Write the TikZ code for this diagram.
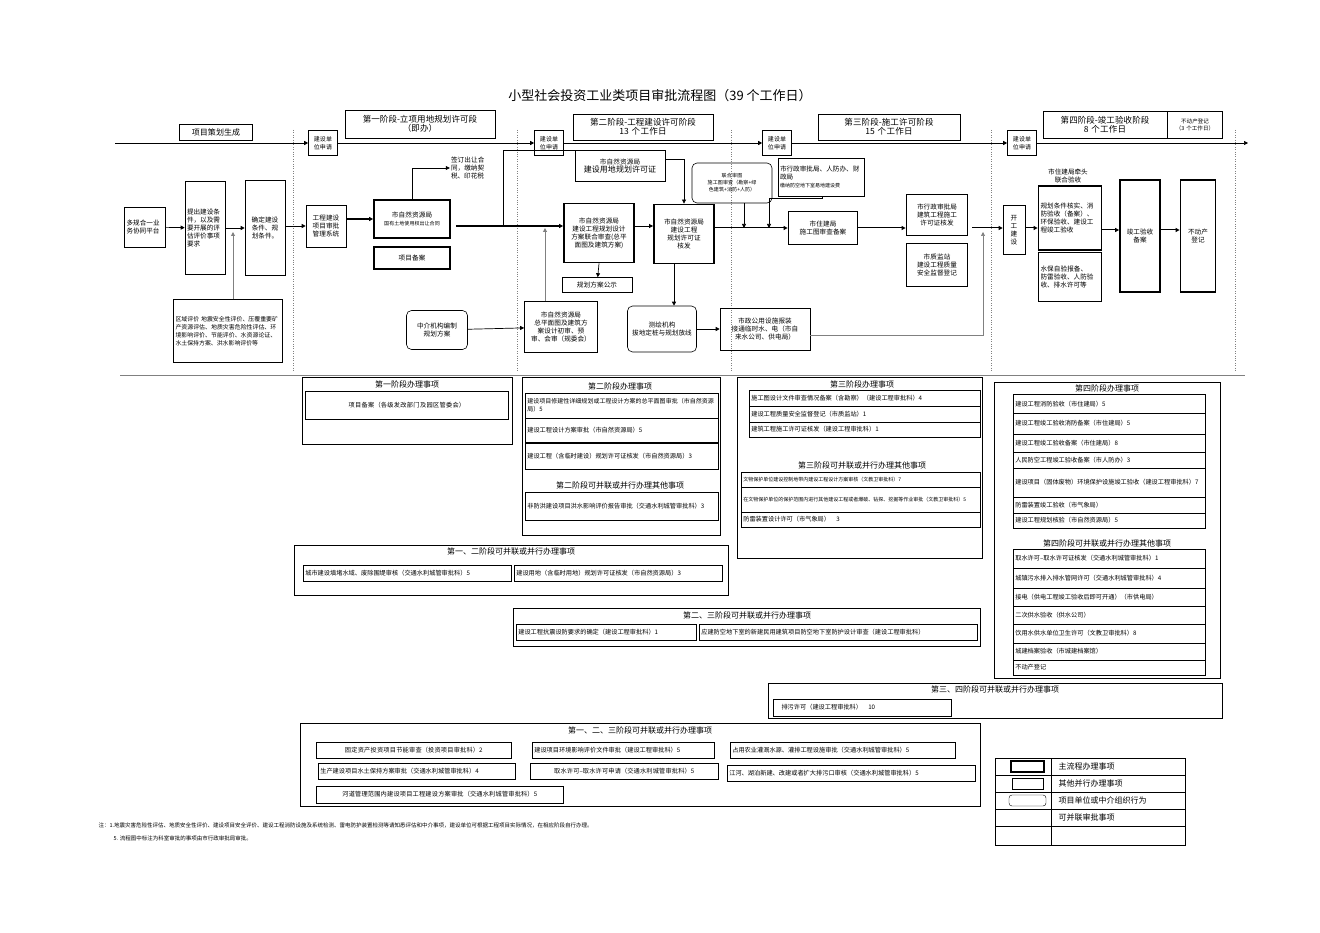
\documentclass[tikz,border=0pt]{standalone}
\usepackage{fontspec}
\setmainfont{Noto Sans CJK SC}
\XeTeXlinebreaklocale "zh"
\XeTeXlinebreakskip = 0pt plus 0.1pt
\usetikzlibrary{arrows.meta}
\usepackage{xcolor}

\tikzset{
	base/.style={draw, inner sep=1pt, align=center, font=\fontsize{6.6}{8}\selectfont},
	mainbox/.style={base, line width=1.8pt},
	subbox/.style={base, line width=0.6pt},
	actbox/.style={base, line width=0.6pt, rounded corners=5pt},
	sz/.style 2 args={minimum width=#1, minimum height=#2, text width=#1-4},
	row/.style={draw, line width=0.6pt, inner sep=2pt, align=left, anchor=west, minimum width=#1, text width=#1-4, font=\fontsize{6.2}{9}\selectfont},
	head/.style={font=\fontsize{8}{9}\selectfont},
	flow/.style={-{Triangle[length=4pt,width=4pt]}, line width=0.7pt},
	stage/.style={dotted, gray},
}

\begin{document}
\begin{tikzpicture}[x=1pt, y=-1pt]
	\useasboundingbox (0,0) rectangle (1320,933);
	
	\node[font=\fontsize{13}{15}\selectfont] (title) at (660,96) {小型社会投资工业类项目审批流程图（39 个工作日）};
	
	% stage headers
	\node[subbox, head, sz={73}{16}] (s0) at (216,132) {项目策划生成};
	\node[subbox, sz={150}{28}, font=\fontsize{8.5}{9}\selectfont] (s1) at (420,124) {第一阶段-立项用地规划许可段\\（即办）};
	\node[subbox, sz={140}{26}, font=\fontsize{8.5}{9}\selectfont] (s2) at (643,127) {第二阶段-工程建设许可阶段\\13 个工作日};
	\node[subbox, sz={142}{26}, font=\fontsize{8.5}{9}\selectfont] (s3) at (889,127) {第三阶段-施工许可阶段\\15 个工作日};
	\node[subbox, sz={124}{27}, font=\fontsize{8.5}{9}\selectfont] (s4) at (1105,125) {第四阶段-竣工验收阶段\\8 个工作日};
	\node[subbox, sz={55}{27}, font=\fontsize{5.5}{7}\selectfont] (s5) at (1195,125) {不动产登记\\（3 个工作日）};
	
	% applicant boxes on the time line
	\node[subbox, sz={29}{25}, font=\fontsize{6}{7.5}\selectfont] (a1) at (323,143) {建设单\\位申请};
	\node[subbox, sz={29}{25}, font=\fontsize{6}{7.5}\selectfont] (a2) at (549,143) {建设单\\位申请};
	\node[subbox, sz={29}{25}, font=\fontsize{6}{7.5}\selectfont] (a3) at (777,143) {建设单\\位申请};
	\node[subbox, sz={29}{25}, font=\fontsize{6}{7.5}\selectfont] (a4) at (1022,143) {建设单\\位申请};
	\coordinate (t0) at (115,143);
	\coordinate (t5) at (1248,143);
	\draw[flow] (t0) -- (a1);
	\draw[flow] (a1) -- (a2);
	\draw[flow] (a2) -- (a3);
	\draw[flow] (a3) -- (a4);
	\draw[flow] (a4) -- (t5);
	
	\foreach \x in {293,517,731,991,1235}
		\draw[stage] (\x,130) -- (\x,372);
	\draw[gray, line width=0.8pt] (120,375) -- (1245,375);
	
	% main flow
	\node[subbox, sz={41}{40}, align=left] (p1) at (145,227) {多规合一业务协同平台};
	\node[subbox, sz={40}{93}, align=left] (p2) at (205,228) {提出建设条件，以及需要开展的评估评价事项要求};
	\node[subbox, sz={40}{95}] (p3) at (265,228) {确定建设条件、规划条件。};
	\node[subbox, sz={109}{63}, align=left, font=\fontsize{5.9}{8}\selectfont] (p4) at (228,331) {区域评价 地震安全性评价、压覆重要矿产资源评估、地质灾害危险性评估、环境影响评价、节能评价、水资源论证、水土保持方案、洪水影响评价等};
	\node[subbox, sz={40}{42}] (p5) at (326,226) {工程建设项目审批管理系统};
	\node[mainbox, sz={76}{38}] (p6) at (412,219) {市自然资源局\\{\fontsize{5}{6}\selectfont 国有土地使用权出让合同}};
	\node[mainbox, sz={76}{22}] (p7) at (412,258) {项目备案};
	\node[base, draw=none, text width=46, align=left] (p8) at (474,168) {签订出让合同，缴纳契税、印花税};
	\node[actbox, sz={61}{39}] (p9) at (437,330) {中介机构编制\\规划方案};
	
	\node[subbox, sz={90}{31}] (q1) at (620,166) {市自然资源局\\{\fontsize{8}{9}\selectfont 建设用地规划许可证}};
	\node[mainbox, sz={70}{59}] (q2) at (599,233) {市自然资源局\\建设工程规划设计方案联合审查(总平面图及建筑方案)};
	\node[subbox, sz={70}{15}] (q3) at (597,285) {规划方案公示};
	\node[subbox, sz={73}{51}] (q4) at (561,327) {市自然资源局\\总平面图及建筑方案设计初审、预审、会审（规委会）};
	\node[mainbox, sz={60}{59}] (q5) at (684,234) {市自然资源局\\建设工程\\规划许可证\\核发};
	\node[actbox, sz={69}{46}] (q6) at (662,329) {测绘机构\\拔地定桩与规划放线};
	\node[subbox, sz={90}{42}] (q7) at (765,329) {市政公用设施报装\\接通临时水、电（市自来水公司、供电局）};
	
	\node[actbox, sz={80}{40}, font=\fontsize{5}{7}\selectfont] (r1) at (732,183) {联合审图\\施工图审查（勘察+绿色建筑+消防+人防）};
	\node[subbox, sz={86}{38}, align=left] (r2) at (821,177) {市行政审批局、人防办、财政局\\{\fontsize{5}{6}\selectfont 缴纳防空地下室易地建设费}};
	\node[mainbox, sz={69}{33}] (r3) at (823,228) {市住建局\\施工图审查备案};
	\node[mainbox, sz={61}{41}] (r4) at (937,215) {市行政审批局\\建筑工程施工许可证核发};
	\node[mainbox, sz={61}{43}] (r5) at (937,265) {市质监站\\建设工程质量安全监督登记};
	
	\node[subbox, sz={22}{49}] (u1) at (1014,230) {开\\工\\建\\设};
	\node[base, draw=none] (u0) at (1068,176) {市住建局牵头\\联合验收};
	\node[mainbox, sz={63}{64}, align=left] (u2) at (1070,218) {规划条件核实、消防验收（备案）、环保验收、建设工程竣工验收};
	\node[mainbox, sz={63}{49}, align=left] (u3) at (1070,277) {水保自验报备、防雷验收、人防验收、排水许可等};
	\node[mainbox, sz={40}{112}] (u4) at (1140,236) {竣工验收\\备案};
	\node[mainbox, sz={35}{112}] (u5) at (1198,236) {不动产\\登记};
	
	% connectors
	\draw[flow] (p1) -- (p2);
	\draw[flow] (p2.east |- 0,228) -- (p3.west |- 0,228);
	\draw[flow, gray, line width=1pt] (p4.north -| 233,0) -- (233,232);
	\draw[flow] (p3.east |- 0,226) -- (p5.west |- 0,226);
	\draw[flow, line width=1.6pt] (p5.east |- 0,219) -- (p6);
	\draw[flow] (p6.north) |- (p8.west);
	\draw[line width=1.6pt, -{Triangle[length=4pt,width=4pt]}] (p6.east |- 0,226) ++(5,0) -- (q2.west |- 0,226);
	\draw[line width=0.8pt] (503,226) |- (q1.west |- 0,150);
	\draw[flow] (q1.east |- 0,159) -| (q5.north);
	\draw[flow] (p9) -- (q4);
	\draw[flow, gray, line width=1pt] (q4.north -| 545,0) -- (545,228);
	\draw[flow] (q2.east |- 0,226) -- (q5.west |- 0,226);
	\draw[flow] (q2.south) -- (q3);
	\draw[flow] (q5.south -| 674,0) -- (q6.north -| 674,0);
	\draw[flow] (q6) -- (q7);
	\draw[flow, line width=1pt] (q5.east |- 0,228) -- (r3.west |- 0,228);
	\draw[flow] (r1.south -| 744,0) -- (744,228);
	\draw[flow] (r2.south -| 822,0) -- (822,198) -| (769,228);
	\draw[flow, line width=1pt] (r3.east |- 0,228) -- (r4.west |- 0,228);
	\draw[flow, line width=1pt] (r4.east |- 0,228) ++(4,0) -- (u1.west |- 0,228);
	\draw[flow, gray] (q7.east |- 0,335) -| (983,232);
	\draw[flow, line width=1pt] (u1.east |- 0,228) -- (u2.west |- 0,228);
	\draw[flow, line width=1pt] (u2.east |- 0,230) -- (u4.west |- 0,230);
	\draw[flow, line width=1pt] (u4.east |- 0,230) -- (u5.west |- 0,230);
	
	% stage 1 items
	\draw[line width=0.8pt] (302,377) rectangle (512,444);
	\node[head] (h1) at (407,384) {第一阶段办理事项};
	\node[row=203, minimum height=28, align=center] (i11) at (305,405) {项目备案（各级发改部门及园区管委会）};
	
	% stage 2 items
	\draw[line width=0.8pt] (522,377) rectangle (720,535);
	\node[head] (h2) at (620,386) {第二阶段办理事项};
	\node[row=193, minimum height=25, font=\fontsize{6}{8}\selectfont] (i21) at (525,405.5) {建设项目修建性详细规划或工程设计方案的总平面图审批（市自然资源局）5};
	\node[row=193, minimum height=24] (i22) at (525,430) {建设工程设计方案审批（市自然资源局）5\\[5pt]};
	\node[row=193, minimum height=26] (i23) at (525,456) {建设工程（含临时建设）规划许可证核发（市自然资源局）3};
	\node[head] (h2b) at (620,485) {第二阶段可并联或并行办理其他事项};
	\node[row=193, minimum height=28, font=\fontsize{6.2}{11}\selectfont] (i24) at (525,506) {非防洪建设项目洪水影响评价报告审批（交通水利城管审批科）3};
	
	% stage 3 items
	\draw[line width=0.8pt] (737,377) rectangle (982,558);
	\node[head] (h3) at (862,384) {第三阶段办理事项};
	\node[row=231, minimum height=16] (i31) at (749,398) {施工图设计文件审查情况备案（含勘察）（建设工程审批科）4};
	\node[row=231, minimum height=16] (i32) at (749,414) {建设工程质量安全监督登记（市质监站）1};
	\node[row=231, minimum height=15] (i33) at (749,429.5) {建筑工程施工许可证核发（建设工程审批科）1};
	\node[head] (h3b) at (862,465) {第三阶段可并联或并行办理其他事项};
	\node[row=239, minimum height=15, font=\fontsize{5}{6}\selectfont] (i34) at (741,479.5) {文物保护单位建设控制地带内建设工程设计方案审核（文教卫审批科）7};
	\node[row=239, minimum height=25, font=\fontsize{5}{8}\selectfont] (i35) at (741,499.5) {在文物保护单位的保护范围内进行其他建设工程或者爆破、钻探、挖掘等作业审批（文教卫审批科）5};
	\node[row=239, minimum height=15] (i36) at (741,519.5) {防雷装置设计许可（市气象局）\quad 3};
	
	% stage 4 items
	\draw[line width=0.8pt] (994,382) rectangle (1220,678);
	\node[head] (h4) at (1107,388) {第四阶段办理事项};
	\node[row=192, minimum height=19] (i41) at (1013,404) {建设工程消防验收（市住建局）5};
	\node[row=192, minimum height=21] (i42) at (1013,423.5) {建设工程竣工验收消防备案（市住建局）5};
	\node[row=192, minimum height=18] (i43) at (1013,443) {建设工程竣工验收备案（市住建局）8};
	\node[row=192, minimum height=16] (i44) at (1013,460) {人民防空工程竣工验收备案（市人防办）3};
	\node[row=192, minimum height=29, font=\fontsize{6.2}{13}\selectfont] (i45) at (1013,482.5) {建设项目（固体废物）环境保护设施竣工验收（建设工程审批科）7};
	\node[row=192, minimum height=16] (i46) at (1013,505) {防雷装置竣工验收（市气象局）};
	\node[row=192, minimum height=15] (i47) at (1013,520.5) {建设工程规划核验（市自然资源局）5};
	\node[head] (h4b) at (1107,543) {第四阶段可并联或并行办理其他事项};
	\node[row=192, minimum height=19] (i48) at (1013,558.5) {取水许可--取水许可证核发（交通水利城管审批科）1};
	\node[row=192, minimum height=20] (i49) at (1013,578) {城镇污水排入排水管网许可（交通水利城管审批科）4};
	\node[row=192, minimum height=18] (i4a) at (1013,597) {接电（供电工程竣工验收后即可开通）（市供电局）};
	\node[row=192, minimum height=18] (i4b) at (1013,615) {二次供水验收（供水公司）};
	\node[row=192, minimum height=19] (i4c) at (1013,633.5) {饮用水供水单位卫生许可（文教卫审批科）8};
	\node[row=192, minimum height=17] (i4d) at (1013,651.5) {城建档案验收（市城建档案馆）};
	\node[row=192, minimum height=15] (i4e) at (1013,667.5) {不动产登记};
	
	% combined stages
	\draw[line width=0.8pt] (294,545) rectangle (728,595);
	\node[head] (h12) at (511,551) {第一、二阶段可并联或并行办理事项};
	\node[row=208, minimum height=16] (c11) at (303,573) {城市建设填堵水域、废除围堤审核（交通水利城管审批科）5};
	\node[row=208, minimum height=16] (c12) at (514,573) {建设用地（含临时用地）规划许可证核发（市自然资源局）3};
	
	\draw[line width=0.8pt] (513,608) rectangle (980,646);
	\node[head] (h23) at (747,615) {第二、三阶段可并联或并行办理事项};
	\node[row=180, minimum height=16] (c21) at (516,632) {建设工程抗震设防要求的确定（建设工程审批科）1};
	\node[row=278, minimum height=16] (c22) at (699,632) {应建防空地下室的新建民用建筑项目防空地下室防护设计审查（建设工程审批科）};
	
	\draw[line width=0.8pt] (768,683) rectangle (1222,718);
	\node[head] (h34) at (995,689) {第三、四阶段可并联或并行办理事项};
	\node[row=178, minimum height=17] (c31) at (773,707.5) {\quad 排污许可（建设工程审批科）\quad 10};
	
	\draw[line width=0.8pt] (300,723) rectangle (980,806);
	\node[head] (h123) at (640,730) {第一、二、三阶段可并联或并行办理事项};
	\node[row=195, minimum height=16, align=center] (c41) at (316,750) {固定资产投资项目节能审查（投资项目审批科）2};
	\node[row=182, minimum height=16] (c42) at (532,750) {建设项目环境影响评价文件审批（建设工程审批科）5};
	\node[row=225, minimum height=16] (c43) at (730,750) {占用农业灌溉水源、灌排工程设施审批（交通水利城管审批科）5};
	\node[row=197, minimum height=16] (c44) at (318,771) {生产建设项目水土保持方案审批（交通水利城管审批科）4};
	\node[row=188, minimum height=16, align=center] (c45) at (530,771) {取水许可--取水许可申请（交通水利城管审批科）5};
	\node[row=248, minimum height=16] (c46) at (727,773) {江河、湖泊新建、改建或者扩大排污口审核（交通水利城管审批科）5};
	\node[row=247, minimum height=17, align=center] (c47) at (316,794.5) {河道管理范围内建设项目工程建设方案审批（交通水利城管审批科）5};
	
	% legend
	\draw[line width=0.8pt] (995,758) rectangle (1185,845);
	\foreach \y in {775,792,809,826}
		\draw (995,\y) -- (1185,\y);
	\draw (1051,758) -- (1051,845);
	\draw[line width=1.5pt] (1011,761) rectangle (1044,772);
	\draw (1012,778) rectangle (1043,789);
	\draw[rounded corners=3pt] (1009,795) rectangle (1046,806);
	\node[anchor=west, font=\fontsize{8}{9}\selectfont] (l1) at (1055,766.5) {主流程办理事项};
	\node[anchor=west, font=\fontsize{8}{9}\selectfont] (l2) at (1055,783.5) {其他并行办理事项};
	\node[anchor=west, font=\fontsize{8}{9}\selectfont] (l3) at (1055,800.5) {项目单位或中介组织行为};
	\node[anchor=west, font=\fontsize{8}{9}\selectfont] (l4) at (1055,817.5) {可并联审批事项};
	
	% notes
	\node[anchor=west, font=\fontsize{5.5}{7}\selectfont] (n1) at (95,825) {注：1.地震灾害危险性评估、地质安全性评价、建设项目安全评价、建设工程消防设施及系统检测、雷电防护装置检测等请知悉评估和中介事项，建设单位可根据工程项目实际情况，在相应阶段自行办理。};
	\node[anchor=west, font=\fontsize{5.5}{7}\selectfont] (n2) at (110,838) {5. 流程图中标注为科室审批的事项由市行政审批局审批。};
\end{tikzpicture}
\end{document}
